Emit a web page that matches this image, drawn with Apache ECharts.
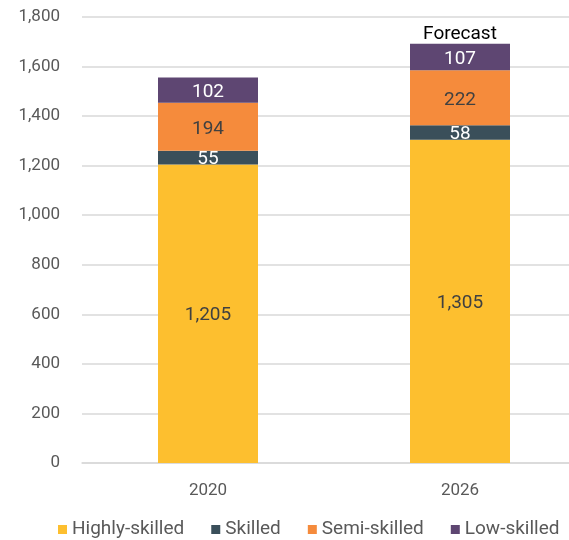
<!DOCTYPE html>
<html><head><meta charset="utf-8">
<script src="https://cdn.jsdelivr.net/npm/echarts@6/dist/echarts.min.js"></script>
<style>html,body{margin:0;padding:0;background:#fff}#c{width:569px;height:540px}</style>
</head><body><div id="c"></div>
<script>
const categories = ['2020', '2026'];
const highlySkilled = [1205, 1305];
const skilled = [55, 58];
const semiSkilled = [194, 222];
const lowSkilled = [102, 107];
const forecastNote = [null, 'Forecast'];
const yTicks = [0, 200, 400, 600, 800, 1000, 1200, 1400, 1600, 1800];

const chart = echarts.init(document.getElementById('c'));
const font = 'Roboto, "Liberation Sans", sans-serif';
function mk(name, data, color, labelColor) {
  return {
    name, type: 'bar', stack: 'total', data, barWidth: 100,
    itemStyle: { color },
    label: { show: true, position: 'inside', offset: [0, 2], color: labelColor, fontSize: 19, fontFamily: font,
      formatter: p => p.value.toLocaleString('en-US') }
  };
}
chart.setOption({
  animation: false,
  textStyle: { fontFamily: font },
  grid: { left: 82, right: -17, top: 17, bottom: 77, outerBoundsMode: 'none', containLabel: false },
  legend: {
    data: ['Highly-skilled', 'Skilled', 'Semi-skilled', 'Low-skilled'],
    top: 515, left: 53, icon: 'rect', itemWidth: 9, itemHeight: 9, itemGap: 27,
    textStyle: { fontSize: 19, color: '#595959', fontFamily: font }
  },
  xAxis: {
    type: 'category', data: categories,
    axisLine: { lineStyle: { color: '#d9d9d9', width: 1.5 } },
    axisTick: { show: false },
    axisLabel: { color: '#595959', fontSize: 17, margin: 19 }
  },
  yAxis: {
    type: 'value', min: yTicks[0], max: yTicks[yTicks.length - 1], interval: 200,
    axisLine: { show: false }, axisTick: { show: false },
    splitLine: { lineStyle: { color: '#d9d9d9', width: 1.5 } },
    axisLabel: { color: '#595959', fontSize: 17, margin: 22,
      formatter: v => v.toLocaleString('en-US') }
  },
  series: [
    mk('Highly-skilled', highlySkilled, '#FDBF2F', '#404040'),
    mk('Skilled', skilled, '#3A4F5A', '#ffffff'),
    mk('Semi-skilled', semiSkilled, '#F58B3C', '#404040'),
    mk('Low-skilled', lowSkilled, '#5E4672', '#ffffff'),
    {
      name: 'note', type: 'bar', stack: 'total', barWidth: 100,
      data: forecastNote.map(n => n ? 0 : null),
      itemStyle: { color: 'transparent' },
      label: { show: true, position: 'top', distance: 0, color: '#000', fontSize: 19, fontFamily: font,
        formatter: p => forecastNote[p.dataIndex] || '' }
    }
  ]
});
</script></body></html>
